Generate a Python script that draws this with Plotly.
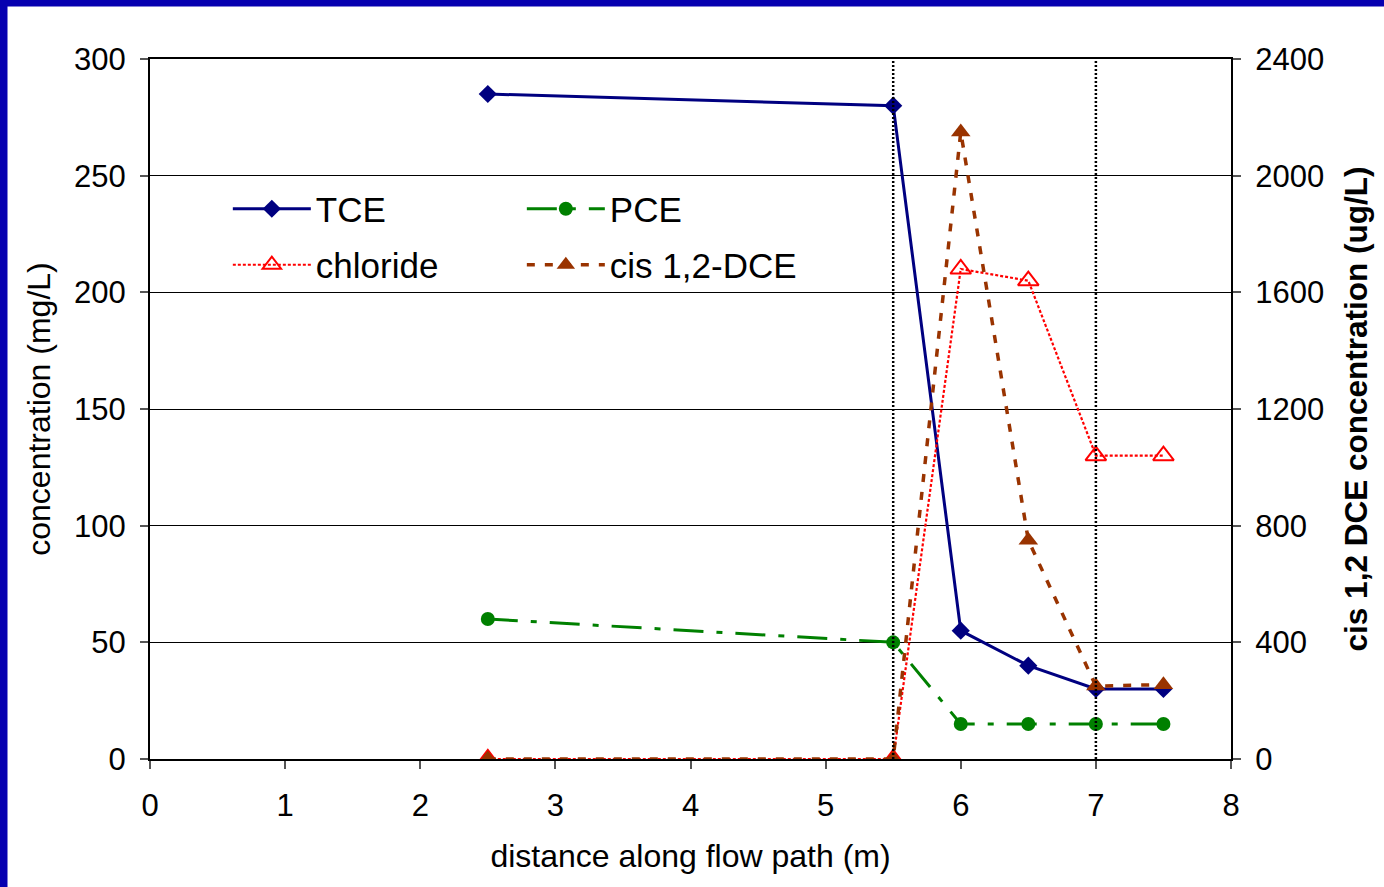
import plotly.graph_objects as go

# ---- data ----
distance = [2.5, 5.5, 6.0, 6.5, 7.0, 7.5]
tce = [285, 280, 55, 40, 30, 30]
pce = [60, 50, 15, 15, 15, 15]
chloride = [0, 0, 210, 205, 130, 130]
cis_dce = [0, 0, 2150, 750, 250, 255]
boundary_x = [5.5, 7.0]

x_ticks = [0, 1, 2, 3, 4, 5, 6, 7, 8]
y_ticks = [0, 50, 100, 150, 200, 250, 300]
y2_ticks = [0, 400, 800, 1200, 1600, 2000, 2400]

W, H = 1384, 887
ML, MR, MT, MB = 150, 153, 59, 128
PW, PH = W - ML - MR, H - MT - MB
FONT = "Arial, Liberation Sans, sans-serif"
BORDER = "#0600B0"

fig = go.Figure()

fig.add_trace(go.Scatter(
    x=distance, y=tce, name="TCE", mode="lines+markers",
    line=dict(color="#000080", width=3),
    marker=dict(symbol="diamond", size=14, color="#000080"),
    legend="legend"))
fig.add_trace(go.Scatter(
    x=distance, y=pce, name="PCE", mode="lines+markers",
    line=dict(color="#008000", width=3, dash="30px,13px,6px,13px"),
    marker=dict(symbol="circle", size=14, color="#008000"),
    legend="legend"))
fig.add_trace(go.Scatter(
    x=distance, y=chloride, name="chloride", mode="lines+markers",
    line=dict(color="#FF0000", width=2.2, dash="3px,2px"),
    marker=dict(symbol="triangle-up-open", size=18, color="#FF0000",
                line=dict(width=2, color="#FF0000")),
    legend="legend2"))
fig.add_trace(go.Scatter(
    x=distance, y=cis_dce, name="cis 1,2-DCE", mode="lines+markers",
    yaxis="y2",
    line=dict(color="#993300", width=3.5, dash="8px,10px"),
    marker=dict(symbol="triangle-up", size=17, color="#993300"),
    legend="legend2"))

shapes = []
for bx in boundary_x:
    shapes.append(dict(type="line", xref="x", yref="paper", x0=bx, x1=bx,
                       y0=0, y1=1, line=dict(color="black", width=2.5, dash="2px,2px"),
                       layer="above"))
# blue frame on top and left edges
shapes.append(dict(type="rect", xref="paper", yref="paper",
                   x0=-ML / PW, x1=(W - ML) / PW,
                   y0=1 + (MT - 6.5) / PH, y1=1 + MT / PH + 0.01,
                   fillcolor=BORDER, line=dict(width=0)))
shapes.append(dict(type="rect", xref="paper", yref="paper",
                   x0=-ML / PW - 0.01, x1=(7.5 - ML) / PW,
                   y0=-MB / PH - 0.01, y1=1 + MT / PH + 0.01,
                   fillcolor=BORDER, line=dict(width=0)))

axis_common = dict(
    showline=True, linecolor="black", linewidth=2,
    ticks="outside", ticklen=8, tickcolor="#555555", tickwidth=1.5,
    tickfont=dict(family=FONT, size=31, color="black"),
    zeroline=False,
)

legend_common = dict(
    orientation="h", x=0.072, xanchor="left", yanchor="middle",
    entrywidth=201, entrywidthmode="pixels", itemwidth=78,
    bgcolor="rgba(0,0,0,0)", font=dict(family=FONT, size=35),
    traceorder="normal",
)

fig.update_layout(
    width=W, height=H,
    margin=dict(l=ML, r=MR, t=MT, b=MB, pad=0),
    paper_bgcolor="white", plot_bgcolor="white",
    font=dict(family=FONT, color="black"),
    shapes=shapes,
    xaxis=dict(range=[0, 8], tickvals=x_ticks, mirror=True, showgrid=False,
               title=dict(text="distance along flow path (m)",
                          font=dict(family=FONT, size=32), standoff=22),
               ticklabelstandoff=10, **axis_common),
    yaxis=dict(range=[0, 300], tickvals=y_ticks, showgrid=True,
               gridcolor="black", gridwidth=1,
               title=dict(text="concentration (mg/L)",
                          font=dict(family=FONT, size=32), standoff=14),
               ticklabelstandoff=8, **axis_common),
    yaxis2=dict(range=[0, 2400], tickvals=y2_ticks, overlaying="y", side="right",
                showgrid=False,
                title=dict(text="<b>cis 1,2 DCE concentration (ug/L)</b>",
                           font=dict(family=FONT, size=31.5), standoff=22),
                ticklabelstandoff=8, **axis_common),
    legend=dict(y=1 - (209 - MT) / PH, **legend_common),
    legend2=dict(y=1 - (265 - MT) / PH, **legend_common),
)

fig.write_html("out.html")
